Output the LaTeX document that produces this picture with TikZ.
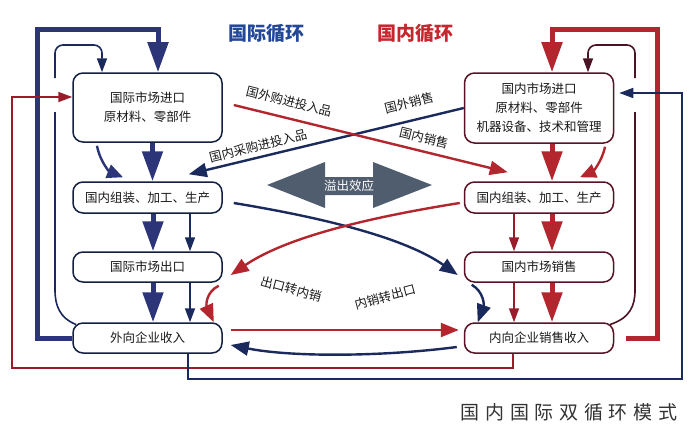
\documentclass[tikz,border=0pt]{standalone}
\usepackage{fontspec}
\setmainfont{Noto Sans CJK SC}
\usetikzlibrary{arrows.meta}
\definecolor{navyT}{HTML}{2B3577}
\definecolor{redT}{HTML}{B3262E}
\definecolor{navyL}{HTML}{1B2A5C}
\definecolor{redL}{HTML}{9A1B2A}
\definecolor{maroonL}{HTML}{4A1424}
\definecolor{lborder}{HTML}{13203F}
\definecolor{rborder}{HTML}{5A1226}
\definecolor{titleB}{HTML}{23489A}
\definecolor{titleR}{HTML}{C8262E}
\definecolor{slate}{HTML}{4F5D6E}
\definecolor{capgray}{HTML}{333333}
\tikzset{
  boxbase/.style={rounded corners=10pt, line width=1.5pt, fill=white, minimum width=149pt,
    align=center, inner sep=0pt, text=black!90, font=\fontsize{12.5}{19}\selectfont},
  lbox/.style={boxbase, draw=lborder},
  rbox/.style={boxbase, draw=rborder},
  bigB/.style={draw=navyT, line width=5pt, line join=miter, -{Triangle[width=20pt,length=30pt]}},
  bigR/.style={draw=redT, line width=5pt, line join=miter, -{Triangle[width=20pt,length=30pt]}},
  thinB/.style={draw=navyL, line width=1.6pt, -{Triangle[width=10pt,length=14pt]}},
  thinR/.style={draw=redL, line width=1.6pt, -{Triangle[width=10pt,length=14pt]}},
  midB/.style={draw=navyL, line width=2.4pt, -{Triangle[width=14pt,length=18pt]}},
  midR/.style={draw=redT, line width=2.4pt, -{Triangle[width=14pt,length=18pt]}},
  lbl/.style={font=\fontsize{12.5}{14}\selectfont, text=black!90, inner sep=0pt},
  ttl/.style={font=\fontsize{19}{22}\selectfont\bfseries, inner sep=0pt},
}
\begin{document}
\begin{tikzpicture}[x=1pt,y=-1pt]
\useasboundingbox (0,0) rectangle (700,444);
\fill[white] (0,0) rectangle (700,444);

% titles
\node[ttl, text=titleB] (tB) at (266,33) {国际循环};
\node[ttl, text=titleR] (tR) at (415,33) {国内循环};

% left boxes
\node[lbox, minimum height=69pt] (L1) at (147.5,107.5) {国际市场进口\\原材料、零部件};
\node[lbox, minimum height=31pt] (L2) at (147.5,197.5) {国内组装、加工、生产};
\node[lbox, minimum height=30pt] (L3) at (147.5,267) {国际市场出口};
\node[lbox, minimum height=30pt] (L4) at (147.5,338) {外向企业收入};

% right boxes
\node[rbox, minimum height=70pt] (R1) at (539,108) {国内市场进口\\原材料、零部件\\机器设备、技术和管理};
\node[rbox, minimum height=31pt] (R2) at (539,197.5) {国内组装、加工、生产};
\node[rbox, minimum height=30pt] (R3) at (539,267) {国内市场销售};
\node[rbox, minimum height=30pt] (R4) at (539,338) {内向企业销售收入};

% big loops
\draw[bigB] (L4.west) -| (37,30) -| ([xshift=10.5pt]L1.north);
\draw[bigR] ([xshift=12pt]R4.east) -| (657,30) -| ([xshift=13pt]R1.north);

% thin inner loops
\coordinate (lg1) at (55,112);
\coordinate (lg2) at (55,78);
\draw[draw=navyL, line width=1.6pt] (76,324.5) .. controls (60,318) and (55,306) .. (55,290) -- (lg1);
\draw[thinB, rounded corners=8pt] (lg2) -- (55,45) -- (102,45) -- ([xshift=-45.5pt]L1.north);
\coordinate (rg1) at (635,112);
\coordinate (rg2) at (635,78);
\draw[draw=maroonL, line width=1.6pt] (610,324.5) .. controls (630,318) and (635,306) .. (635,290) -- (rg1);
\draw[draw=maroonL, line width=1.6pt, -{Triangle[width=10pt,length=14pt]}, rounded corners=8pt] (rg2) -- (635,45) -- (588,45) -- ([xshift=49pt]R1.north);

% outer thin lines
\draw[thinR, rounded corners=0pt] ([xshift=-26pt]R4.south) |- (12,368) |- ([yshift=10.5pt]L1.west);
\draw[thinB] ([xshift=40.5pt]L4.south) |- (682,379) |- ([xshift=5pt,yshift=15pt]R1.east);

% vertical arrows left
\draw[bigB] ([xshift=5pt]L1.south) -- ([xshift=5pt]L2.north);
\draw[navyT, line width=2.4pt, -{Triangle[width=14pt,length=16pt]}] ([xshift=-50.5pt,yshift=-3pt]L1.south) .. controls (100,162) and (110,172) .. ([xshift=-24.5pt,yshift=4pt]L2.north);
\draw[bigB] ([xshift=5.5pt]L2.south) -- ([xshift=5.5pt]L3.north);
\draw[thinB] ([xshift=42.5pt]L2.south) -- ([xshift=42.5pt]L3.north);
\draw[bigB] ([xshift=5.5pt]L3.south) -- ([xshift=5.5pt]L4.north);
\draw[thinB] ([xshift=42.5pt]L3.south) -- ([xshift=42.5pt]L4.north);

% vertical arrows right
\draw[bigR] ([xshift=13pt]R1.south) -- ([xshift=13pt]R2.north);
\draw[redT, line width=2.4pt, -{Triangle[width=14pt,length=16pt]}] ([xshift=66pt,yshift=-3pt]R1.south) .. controls (602,162) and (592,172) .. ([xshift=41pt,yshift=4pt]R2.north);
\draw[bigR] ([xshift=13pt]R2.south) -- ([xshift=13pt]R3.north);
\draw[thinR] ([xshift=-25pt]R2.south) -- ([xshift=-25pt]R3.north);
\draw[bigR] ([xshift=13pt]R3.south) -- ([xshift=13pt]R4.north);
\draw[thinR] ([xshift=-25pt]R3.south) -- ([xshift=-25pt]R4.north);

% upper cross lines
\draw[midB] (R1.west) -- ([xshift=-34pt,yshift=7pt]L2.north east);
\draw[midR] ([xshift=11pt,yshift=2.5pt]L1.east) -- ([xshift=44pt,yshift=9pt]R2.north west);
\node[lbl, rotate=-14] (t1) at (289,101) {国外购进投入品};
\node[lbl, rotate=14] (t2) at (258,146) {国内采购进投入品};
\node[lbl, rotate=14] (t3) at (409,103) {国外销售};
\node[lbl, rotate=-14] (t4) at (424,138) {国内销售};

% spillover double arrow
\fill[slate] (267,185) -- (325,162) -- (325,177) -- (373,177) -- (373,162) -- (432,185)
  -- (373,208) -- (373,195) -- (325,195) -- (325,208) -- cycle;
\node[lbl, text=white] (sp) at (349,186) {溢出效应};

% lower cross curves
\draw[midB] ([xshift=11pt,yshift=-5.5pt]L2.east) .. controls (325,218) and (405,238) .. ([xshift=-6pt,yshift=-8pt]R3.west);
\draw[midR] ([xshift=-4pt,yshift=-5.5pt]R2.west) .. controls (365,218) and (285,238) .. ([xshift=8pt,yshift=-8pt]L3.east);
\node[lbl, rotate=-15] (t5) at (291,289) {出口转内销};
\node[lbl, rotate=15] (t6) at (385,297) {内销转出口};

% small curves
\draw[midR] ([xshift=-4pt,yshift=-3pt]L3.south east) .. controls (206,292) and (206,305) .. ([xshift=-9pt]L4.north east);
\draw[midB] ([xshift=8pt,yshift=-2pt]R3.south west) .. controls (484,292) and (484,305) .. ([xshift=14pt]R4.north west);

% bottom horizontal
\draw[midR] ([xshift=8pt,yshift=8pt]L4.east) -- ([xshift=-5pt,yshift=8pt]R4.west);
\draw[midB] ([xshift=-7pt,yshift=-9pt]R4.west) .. controls (380,357) and (290,357) .. ([xshift=8pt,yshift=-7pt]L4.east);

% caption
\node[inner sep=0pt, text=capgray, font=\fontsize{19}{22}\selectfont\addfontfeature{LetterSpace=30}] (cap) at (569,412) {国内国际双循环模式};
\end{tikzpicture}
\end{document}
